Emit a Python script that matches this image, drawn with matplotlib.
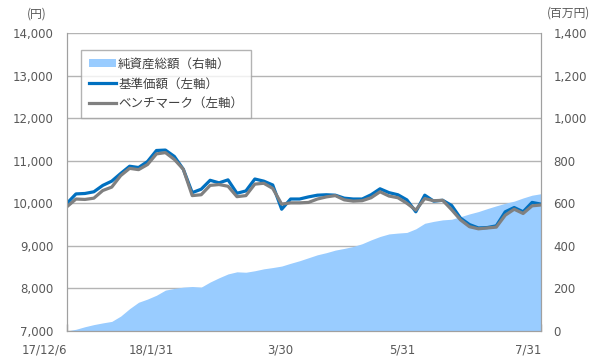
import numpy as np
import matplotlib
matplotlib.use("Agg")
import matplotlib.pyplot as plt
from matplotlib.ticker import FuncFormatter

plt.rcParams["font.family"] = ["DejaVu Sans", "Noto Sans CJK JP"]

TEXT, SPINE, GRID = "#595959", "#a0a0a0", "#b4b4b4"
BLUE, GRAY, AREA = "#0070C0", "#808080", "#99CCFF"

# ── Data (trading-day index, every 3rd day) ────────────────────────────────────
sample_day = list(range(0, 160, 3))

nav = [10000, 10220, 10230, 10270, 10420, 10520, 10700, 10870, 10840, 10980,
       11240, 11250, 11100, 10800, 10250, 10330, 10540, 10480, 10550, 10235,
       10290, 10570, 10520, 10430, 9860, 10100, 10100, 10150, 10190, 10200,
       10190, 10120, 10100, 10100, 10200, 10340, 10250, 10200, 10080, 9800,
       10190, 10050, 10070, 9950, 9650, 9500, 9420, 9430, 9470, 9800,
       9900, 9800, 10020, 9980]

bench = [9920, 10100, 10090, 10120, 10300, 10380, 10650, 10820, 10790, 10910,
         11160, 11190, 11030, 10800, 10180, 10200, 10420, 10440, 10400, 10155,
         10180, 10450, 10470, 10350, 9980, 10010, 10010, 10020, 10100, 10150,
         10180, 10080, 10050, 10060, 10130, 10270, 10170, 10130, 10000, 9840,
         10110, 10060, 10070, 9850, 9610, 9450, 9400, 9420, 9440, 9720,
         9860, 9760, 9940, 9960]

assets = [0, 8, 20, 30, 38, 45, 70, 105, 135, 150,
          168, 192, 200, 206, 209, 206, 230, 250, 268, 278,
          276, 283, 292, 298, 305, 318, 330, 344, 358, 368,
          380, 388, 397, 410, 428, 444, 456, 460, 463, 480,
          506, 515, 522, 525, 537, 550, 561, 575, 588, 600,
          610, 625, 638, 645]

tick_days = [0, 36, 76, 117, 159]
tick_labels = ["17/12/6", "18/1/31", "3/30", "5/31", "7/31"]

left_ticks = list(range(7000, 14001, 1000))
right_ticks = list(range(0, 1401, 200))

# ── Figure ─────────────────────────────────────────────────────────────────────
fig = plt.figure(figsize=(5.99, 3.63), dpi=100)
ax2 = fig.add_axes([0.1119, 0.0882, 0.7913, 0.8209])
ax1 = ax2.twinx()
ax1.yaxis.tick_left()
ax2.yaxis.tick_right()
ax1.set_zorder(ax2.get_zorder() + 1)
ax1.patch.set_visible(False)

# right axis: net assets area + grid (grid under the area)
ax2.set_axisbelow(True)
ax2.yaxis.grid(True, color=GRID, lw=1)
area = ax2.fill_between(sample_day, 0, assets, color=AREA, lw=0,
                        label="純資産総額（右軸）")
ax2.set_ylim(0, 1400)
ax2.set_yticks(right_ticks)

# left axis: NAV and benchmark
l1, = ax1.plot(sample_day, nav, color=BLUE, lw=2.3, label="基準価額（左軸）")
l2, = ax1.plot(sample_day, bench, color=GRAY, lw=2.3, label="ベンチマーク（左軸）")
ax1.set_ylim(7000, 14000)
ax1.set_yticks(left_ticks)

ax1.set_xlim(0, 159)
ax2.set_xticks(tick_days)
ax2.set_xticklabels(tick_labels, ha="right")

fmt = FuncFormatter(lambda v, p: f"{int(v):,}")
for ax in (ax1, ax2):
    ax.yaxis.set_major_formatter(fmt)
    for sp in ax.spines.values():
        sp.set_color(SPINE)
    ax.spines["top"].set_visible(False)
ax1.tick_params(axis="y", length=0, pad=10, labelsize=8.5, colors=TEXT)
ax2.tick_params(axis="y", length=0, pad=9, labelsize=8.5, colors=TEXT)
ax2.tick_params(axis="x", direction="in", length=5, width=1, color=SPINE,
                pad=9, labelsize=8.5, labelcolor=TEXT)
ax1.tick_params(axis="x", length=0)

leg = ax1.legend(handles=[area, l1, l2], loc="upper left",
                 bbox_to_anchor=(0.03, 0.943), borderaxespad=0,
                 fontsize=9, frameon=True, fancybox=False,
                 handlelength=2.2, handleheight=0.6, handletextpad=0.15,
                 labelspacing=0.55, borderpad=0.6,
                 prop={"family": ["Noto Sans CJK JP"], "size": 9})
leg.get_frame().set_edgecolor(SPINE)
leg.get_frame().set_linewidth(1)
for t in leg.get_texts():
    t.set_color("#404040")

fig.text(37 / 599, 1 - 14 / 363, "(円)", ha="center", va="center",
         fontsize=8.5, color=TEXT, family=["Noto Sans CJK JP", "DejaVu Sans"])
fig.text(569 / 599, 1 - 13 / 363, "(百万円)", ha="center", va="center",
         fontsize=8.5, color=TEXT, family=["Noto Sans CJK JP", "DejaVu Sans"])

fig.savefig("out.png", dpi=100, facecolor="white")
